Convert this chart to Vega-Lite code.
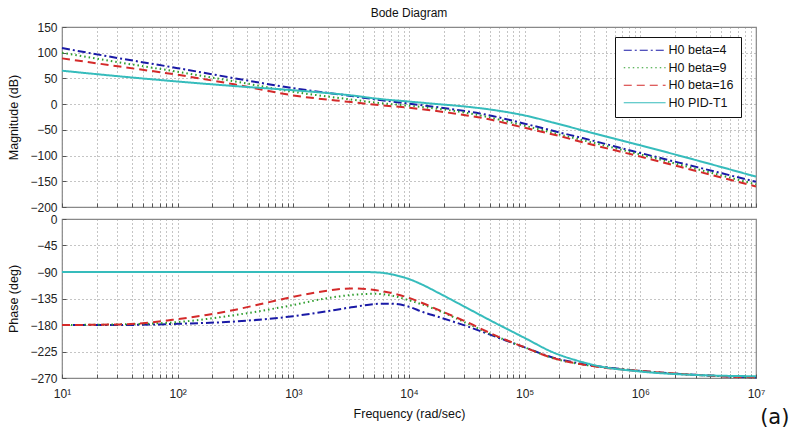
{
  "$schema": "https://vega.github.io/schema/vega-lite/v6.json",
  "padding": {"left": 7, "top": 6, "right": 0, "bottom": 0},
  "background": "white",
  "bounds": "flush",
  "title": {"text": "(a)", "orient": "bottom", "anchor": "end", "font": "DejaVu Sans", "fontSize": 21, "fontWeight": "normal", "color": "#111", "dx": 24, "dy": -17},
  "spacing": 12,
  "datasets": {
    "mag": [
      {"s": "H0 beta=4", "w": 10, "v": 109}, {"s": "H0 beta=4", "w": 31.62, "v": 89}, {"s": "H0 beta=4", "w": 100, "v": 70}, {"s": "H0 beta=4", "w": 316.2, "v": 50}, {"s": "H0 beta=4", "w": 1000, "v": 31}, {"s": "H0 beta=4", "w": 3162, "v": 16}, {"s": "H0 beta=4", "w": 5623, "v": 8}, {"s": "H0 beta=4", "w": 10000, "v": 1}, {"s": "H0 beta=4", "w": 31623, "v": -14}, {"s": "H0 beta=4", "w": 40738, "v": -18}, {"s": "H0 beta=4", "w": 100000, "v": -38}, {"s": "H0 beta=4", "w": 199526, "v": -55}, {"s": "H0 beta=4", "w": 316228, "v": -66}, {"s": "H0 beta=4", "w": 1000000, "v": -95}, {"s": "H0 beta=4", "w": 3162278, "v": -123}, {"s": "H0 beta=4", "w": 10000000, "v": -151},
      {"s": "H0 beta=9", "w": 10, "v": 100}, {"s": "H0 beta=9", "w": 31.62, "v": 81}, {"s": "H0 beta=9", "w": 100, "v": 63}, {"s": "H0 beta=9", "w": 316.2, "v": 44}, {"s": "H0 beta=9", "w": 1000, "v": 24}, {"s": "H0 beta=9", "w": 3162, "v": 9}, {"s": "H0 beta=9", "w": 5623, "v": 2}, {"s": "H0 beta=9", "w": 10000, "v": -3}, {"s": "H0 beta=9", "w": 31623, "v": -17}, {"s": "H0 beta=9", "w": 100000, "v": -42}, {"s": "H0 beta=9", "w": 199526, "v": -59}, {"s": "H0 beta=9", "w": 316228, "v": -70}, {"s": "H0 beta=9", "w": 1000000, "v": -98}, {"s": "H0 beta=9", "w": 3162278, "v": -127}, {"s": "H0 beta=9", "w": 10000000, "v": -156},
      {"s": "H0 beta=16", "w": 10, "v": 89}, {"s": "H0 beta=16", "w": 31.62, "v": 73}, {"s": "H0 beta=16", "w": 100, "v": 57}, {"s": "H0 beta=16", "w": 316.2, "v": 38}, {"s": "H0 beta=16", "w": 1000, "v": 17}, {"s": "H0 beta=16", "w": 3162, "v": 4}, {"s": "H0 beta=16", "w": 5623, "v": -2}, {"s": "H0 beta=16", "w": 10000, "v": -7}, {"s": "H0 beta=16", "w": 31623, "v": -22}, {"s": "H0 beta=16", "w": 40738, "v": -26}, {"s": "H0 beta=16", "w": 100000, "v": -46}, {"s": "H0 beta=16", "w": 199526, "v": -62}, {"s": "H0 beta=16", "w": 316228, "v": -74}, {"s": "H0 beta=16", "w": 1000000, "v": -102}, {"s": "H0 beta=16", "w": 3162278, "v": -131}, {"s": "H0 beta=16", "w": 10000000, "v": -160},
      {"s": "H0 PID-T1", "w": 10, "v": 65}, {"s": "H0 PID-T1", "w": 31.62, "v": 54}, {"s": "H0 PID-T1", "w": 100, "v": 44}, {"s": "H0 PID-T1", "w": 316.2, "v": 35}, {"s": "H0 PID-T1", "w": 1000, "v": 27}, {"s": "H0 PID-T1", "w": 3162, "v": 17}, {"s": "H0 PID-T1", "w": 5623, "v": 10}, {"s": "H0 PID-T1", "w": 10000, "v": 5}, {"s": "H0 PID-T1", "w": 17783, "v": 0}, {"s": "H0 PID-T1", "w": 31623, "v": -5}, {"s": "H0 PID-T1", "w": 56234, "v": -12}, {"s": "H0 PID-T1", "w": 100000, "v": -22}, {"s": "H0 PID-T1", "w": 199526, "v": -39}, {"s": "H0 PID-T1", "w": 316228, "v": -51}, {"s": "H0 PID-T1", "w": 1000000, "v": -80}, {"s": "H0 PID-T1", "w": 3162278, "v": -110}, {"s": "H0 PID-T1", "w": 10000000, "v": -141}
    ],
    "phase": [
      {"s": "H0 beta=4", "w": 10, "v": -180}, {"s": "H0 beta=4", "w": 31.62, "v": -180}, {"s": "H0 beta=4", "w": 100, "v": -178}, {"s": "H0 beta=4", "w": 316.2, "v": -174}, {"s": "H0 beta=4", "w": 1000, "v": -165}, {"s": "H0 beta=4", "w": 1778, "v": -158}, {"s": "H0 beta=4", "w": 3162, "v": -150}, {"s": "H0 beta=4", "w": 5623, "v": -144}, {"s": "H0 beta=4", "w": 7079, "v": -144}, {"s": "H0 beta=4", "w": 10000, "v": -149}, {"s": "H0 beta=4", "w": 13183, "v": -158}, {"s": "H0 beta=4", "w": 17783, "v": -166}, {"s": "H0 beta=4", "w": 31623, "v": -182}, {"s": "H0 beta=4", "w": 56234, "v": -200}, {"s": "H0 beta=4", "w": 100000, "v": -218}, {"s": "H0 beta=4", "w": 173780, "v": -235}, {"s": "H0 beta=4", "w": 316228, "v": -246}, {"s": "H0 beta=4", "w": 562341, "v": -253}, {"s": "H0 beta=4", "w": 1000000, "v": -258}, {"s": "H0 beta=4", "w": 3162278, "v": -265}, {"s": "H0 beta=4", "w": 10000000, "v": -269},
      {"s": "H0 beta=9", "w": 10, "v": -180}, {"s": "H0 beta=9", "w": 31.62, "v": -179}, {"s": "H0 beta=9", "w": 100, "v": -175}, {"s": "H0 beta=9", "w": 316.2, "v": -163}, {"s": "H0 beta=9", "w": 1000, "v": -146}, {"s": "H0 beta=9", "w": 1778, "v": -136}, {"s": "H0 beta=9", "w": 3162, "v": -129}, {"s": "H0 beta=9", "w": 5012, "v": -127}, {"s": "H0 beta=9", "w": 7079, "v": -130}, {"s": "H0 beta=9", "w": 10000, "v": -138}, {"s": "H0 beta=9", "w": 17783, "v": -155}, {"s": "H0 beta=9", "w": 31623, "v": -177}, {"s": "H0 beta=9", "w": 56234, "v": -199}, {"s": "H0 beta=9", "w": 100000, "v": -218}, {"s": "H0 beta=9", "w": 173780, "v": -236}, {"s": "H0 beta=9", "w": 316228, "v": -247}, {"s": "H0 beta=9", "w": 562341, "v": -253}, {"s": "H0 beta=9", "w": 1000000, "v": -258}, {"s": "H0 beta=9", "w": 3162278, "v": -265}, {"s": "H0 beta=9", "w": 10000000, "v": -269},
      {"s": "H0 beta=16", "w": 10, "v": -180}, {"s": "H0 beta=16", "w": 31.62, "v": -179}, {"s": "H0 beta=16", "w": 56.23, "v": -176}, {"s": "H0 beta=16", "w": 100, "v": -170}, {"s": "H0 beta=16", "w": 177.8, "v": -163}, {"s": "H0 beta=16", "w": 316.2, "v": -154}, {"s": "H0 beta=16", "w": 562.3, "v": -143}, {"s": "H0 beta=16", "w": 1000, "v": -132}, {"s": "H0 beta=16", "w": 1778, "v": -123}, {"s": "H0 beta=16", "w": 3162, "v": -118}, {"s": "H0 beta=16", "w": 5623, "v": -122}, {"s": "H0 beta=16", "w": 10000, "v": -134}, {"s": "H0 beta=16", "w": 13183, "v": -143}, {"s": "H0 beta=16", "w": 17783, "v": -154}, {"s": "H0 beta=16", "w": 31623, "v": -175}, {"s": "H0 beta=16", "w": 56234, "v": -198}, {"s": "H0 beta=16", "w": 100000, "v": -218}, {"s": "H0 beta=16", "w": 173780, "v": -236}, {"s": "H0 beta=16", "w": 316228, "v": -247}, {"s": "H0 beta=16", "w": 562341, "v": -254}, {"s": "H0 beta=16", "w": 1000000, "v": -258}, {"s": "H0 beta=16", "w": 3162278, "v": -265}, {"s": "H0 beta=16", "w": 10000000, "v": -269},
      {"s": "H0 PID-T1", "w": 10, "v": -90}, {"s": "H0 PID-T1", "w": 100, "v": -90}, {"s": "H0 PID-T1", "w": 1000, "v": -90}, {"s": "H0 PID-T1", "w": 3981, "v": -90}, {"s": "H0 PID-T1", "w": 5623, "v": -91}, {"s": "H0 PID-T1", "w": 7079, "v": -94}, {"s": "H0 PID-T1", "w": 10000, "v": -102}, {"s": "H0 PID-T1", "w": 13183, "v": -112}, {"s": "H0 PID-T1", "w": 17783, "v": -125}, {"s": "H0 PID-T1", "w": 31623, "v": -151}, {"s": "H0 PID-T1", "w": 56234, "v": -177}, {"s": "H0 PID-T1", "w": 74131, "v": -189}, {"s": "H0 PID-T1", "w": 100000, "v": -202}, {"s": "H0 PID-T1", "w": 173780, "v": -226}, {"s": "H0 PID-T1", "w": 316228, "v": -243}, {"s": "H0 PID-T1", "w": 416869, "v": -249}, {"s": "H0 PID-T1", "w": 1000000, "v": -259}, {"s": "H0 PID-T1", "w": 3162278, "v": -265}, {"s": "H0 PID-T1", "w": 10000000, "v": -267}
    ]
  },
  "resolve": {"legend": {"color": "independent", "strokeDash": "independent"}},
  "vconcat": [
    {
      "width": 694,
      "height": 180,
      "title": {"text": "Bode Diagram", "frame": "group", "anchor": "middle", "font": "Liberation Sans", "fontSize": 12, "fontWeight": "normal", "color": "#111", "offset": 1},
      "data": {"name": "mag"},
      "mark": {"type": "line", "strokeWidth": 2, "interpolate": "monotone"},
      "encoding": {
        "x": {"field": "w", "type": "quantitative", "scale": {"type": "log", "domain": [10, 10000000], "nice": false},
          "axis": {"title": null, "labels": false, "ticks": true, "tickSize": -4, "minExtent": 0, "maxExtent": 0, "labelPadding": 0, "values": [10,20,30,40,50,60,70,80,90,100,200,300,400,500,600,700,800,900,1000,2000,3000,4000,5000,6000,7000,8000,9000,10000,20000,30000,40000,50000,60000,70000,80000,90000,100000,200000,300000,400000,500000,600000,700000,800000,900000,1000000,2000000,3000000,4000000,5000000,6000000,7000000,8000000,9000000,10000000]}},
        "y": {"field": "v", "type": "quantitative", "scale": {"domain": [-200, 150], "nice": false},
          "axis": {"title": "Magnitude (dB)", "values": [-200,-150,-100,-50,0,50,100,150], "ticks": true, "tickSize": -4, "labelPadding": 9, "titlePadding": 9}},
        "color": {"field": "s", "type": "nominal",
          "scale": {"domain": ["H0 beta=4", "H0 beta=9", "H0 beta=16", "H0 PID-T1"], "range": ["#1a1aa6", "#2e9e2e", "#d42a2a", "#36bcbc"]},
          "legend": {"title": null, "orient": "none", "legendX": 553, "legendY": 10, "fillColor": "white", "strokeColor": "#111", "padding": 7, "symbolType": "M-1,0H8.3", "symbolSize": 81, "symbolStrokeWidth": 1.2, "labelOffset": 34, "labelFont": "Liberation Sans", "labelFontSize": 12.5, "labelColor": "#111", "rowPadding": 4.5}},
        "strokeDash": {"field": "s", "type": "nominal",
          "scale": {"domain": ["H0 beta=4", "H0 beta=9", "H0 beta=16", "H0 PID-T1"], "range": [[8,3,2,3], [1.5,3], [8,5], [1,0]]},
          "legend": {"title": null, "orient": "none", "legendX": 553, "legendY": 10, "fillColor": "white", "strokeColor": "#111", "padding": 7, "symbolType": "M-1,0H8.3", "symbolSize": 81, "symbolStrokeWidth": 1.2, "labelOffset": 34, "labelFont": "Liberation Sans", "labelFontSize": 12.5, "labelColor": "#111", "rowPadding": 4.5}}
      }
    },
    {
      "width": 694,
      "height": 159,
      "data": {"name": "phase"},
      "mark": {"type": "line", "strokeWidth": 2, "interpolate": "monotone"},
      "encoding": {
        "x": {"field": "w", "type": "quantitative", "scale": {"type": "log", "domain": [10, 10000000], "nice": false},
          "axis": {"title": "Frequency  (rad/sec)", "ticks": true, "tickSize": -4, "labelPadding": 14, "titlePadding": 8, "labelOverlap": false, "labelFlush": false, "labelBound": false,
            "labelExpr": "datum.value == 10 ? '10¹' : datum.value == 100 ? '10²' : datum.value == 1000 ? '10³' : datum.value == 10000 ? '10⁴' : datum.value == 100000 ? '10⁵' : datum.value == 1000000 ? '10⁶' : datum.value == 10000000 ? '10⁷' : ''",
            "values": [10,20,30,40,50,60,70,80,90,100,200,300,400,500,600,700,800,900,1000,2000,3000,4000,5000,6000,7000,8000,9000,10000,20000,30000,40000,50000,60000,70000,80000,90000,100000,200000,300000,400000,500000,600000,700000,800000,900000,1000000,2000000,3000000,4000000,5000000,6000000,7000000,8000000,9000000,10000000]}},
        "y": {"field": "v", "type": "quantitative", "scale": {"domain": [-270, 0], "nice": false},
          "axis": {"title": "Phase (deg)", "values": [-270,-225,-180,-135,-90,-45,0], "ticks": true, "tickSize": -4, "labelPadding": 9, "titlePadding": 9}},
        "color": {"field": "s", "type": "nominal",
          "scale": {"domain": ["H0 beta=4", "H0 beta=9", "H0 beta=16", "H0 PID-T1"], "range": ["#1a1aa6", "#2e9e2e", "#d42a2a", "#36bcbc"]},
          "legend": null},
        "strokeDash": {"field": "s", "type": "nominal",
          "scale": {"domain": ["H0 beta=4", "H0 beta=9", "H0 beta=16", "H0 PID-T1"], "range": [[8,3,2,3], [1.5,3], [8,5], [1,0]]},
          "legend": null}
      }
    }
  ],
  "config": {
    "font": "Liberation Sans",
    "view": {"stroke": "#888", "strokeWidth": 1.2},
    "axis": {"labelFont": "Liberation Sans", "labelFontSize": 12, "labelColor": "#222", "titleFont": "Liberation Sans", "titleFontSize": 12.5, "titleFontWeight": "normal", "titleColor": "#111", "ticks": false, "tickColor": "#555", "tickWidth": 1, "domain": false, "grid": true, "gridColor": "#8a8a8a", "gridDash": [1, 3], "gridWidth": 1}
  }
}
